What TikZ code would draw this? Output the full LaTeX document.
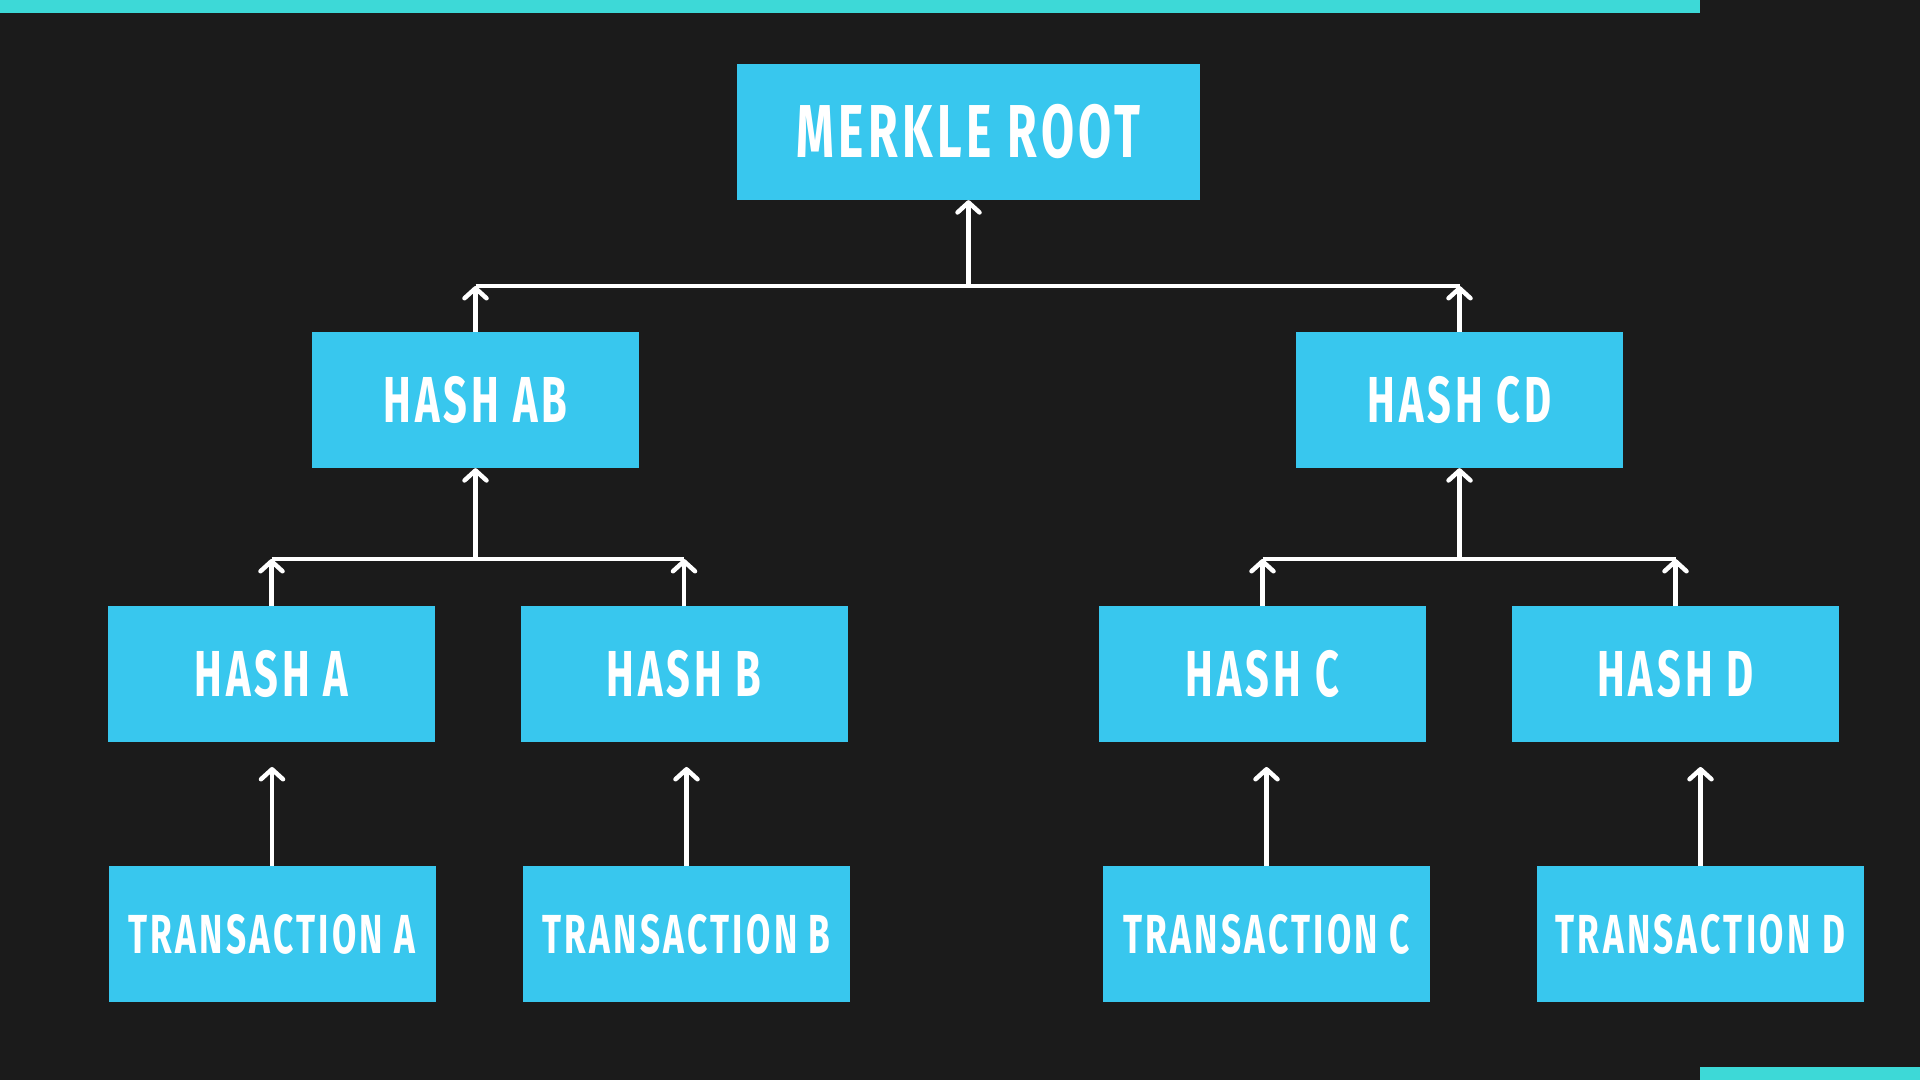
\documentclass[tikz,border=0pt]{standalone}
\usepackage{fontspec}
\newfontfamily\boxfont{Fira Sans}[FakeStretch=0.64, LetterSpace=6]
\usetikzlibrary{arrows.meta, positioning}
\definecolor{bgdark}{HTML}{1B1B1B}
\definecolor{boxblue}{HTML}{38C7EE}
\definecolor{barteal}{HTML}{3DD9D7}

\begin{document}
\begin{tikzpicture}[x=1pt,y=1pt,
    hashbox/.style={rectangle, fill=boxblue, minimum width=327pt, minimum height=136pt, inner sep=0pt, text=white, font=\boxfont\bfseries\fontsize{65}{70}\selectfont},
    txbox/.style={hashbox, font=\boxfont\bfseries\fontsize{55}{60}\selectfont},
    rootbox/.style={hashbox, minimum width=463pt, font=\boxfont\bfseries\fontsize{75}{80}\selectfont},
    wire/.style={draw=white, line width=4.5pt},
    arr/.style={wire, -{Straight Barb[length=10pt,width=22pt,round]}}]
  \useasboundingbox (0,0) rectangle (1920,1080);
  \fill[bgdark] (0,0) rectangle (1920,1080);
  \fill[barteal] (0,1067) rectangle (1700,1080);
  \fill[barteal] (1700,0) rectangle (1920,13);

  \node (root) [rootbox] at (968.5,948) {MERKLE ROOT};
  \node (hab) [hashbox] at (475.5,680) {HASH AB};
  \node (hcd) [hashbox] at (1459.5,680) {HASH CD};
  \node (ha) [hashbox] at (271.5,406) {HASH A};
  \node (hb) [hashbox] at (684,406) {HASH B};
  \node (hc) [hashbox] at (1262.5,406) {HASH C};
  \node (hd) [hashbox] at (1675.5,406) {HASH D};
  \node (ta) [txbox] at (272,146) {TRANSACTION A};
  \node (tb) [txbox] at (686.5,146) {TRANSACTION B};
  \node (tc) [txbox] at (1266.5,146) {TRANSACTION C};
  \node (td) [txbox] at (1700.5,146) {TRANSACTION D};

  % buses between levels
  \coordinate (topbus) at (968.5,794);
  \coordinate (busab) at (475.5,521);
  \coordinate (buscd) at (1459.5,521);

  \draw[wire] (hab.north |- topbus) -- (hcd.north |- topbus);
  \draw[arr] (hab.north) -- (hab.north |- topbus);
  \draw[arr] (hcd.north) -- (hcd.north |- topbus);
  \draw[arr] (topbus) -- (root.south);

  \draw[wire] (ha.north |- busab) -- (hb.north |- busab);
  \draw[arr] (ha.north) -- (ha.north |- busab);
  \draw[arr] (hb.north) -- (hb.north |- busab);
  \draw[arr] (busab) -- (hab.south);

  \draw[wire] (hc.north |- buscd) -- (hd.north |- buscd);
  \draw[arr] (hc.north) -- (hc.north |- buscd);
  \draw[arr] (hd.north) -- (hd.north |- buscd);
  \draw[arr] (buscd) -- (hcd.south);

  % transactions up to their hashes
  \coordinate (tipa) at (272,313);
  \coordinate (tipb) at (686.5,313);
  \coordinate (tipc) at (1266.5,313);
  \coordinate (tipd) at (1700.5,313);
  \draw[arr] (ta.north) -- (tipa);
  \draw[arr] (tb.north) -- (tipb);
  \draw[arr] (tc.north) -- (tipc);
  \draw[arr] (td.north) -- (tipd);
\end{tikzpicture}
\end{document}
